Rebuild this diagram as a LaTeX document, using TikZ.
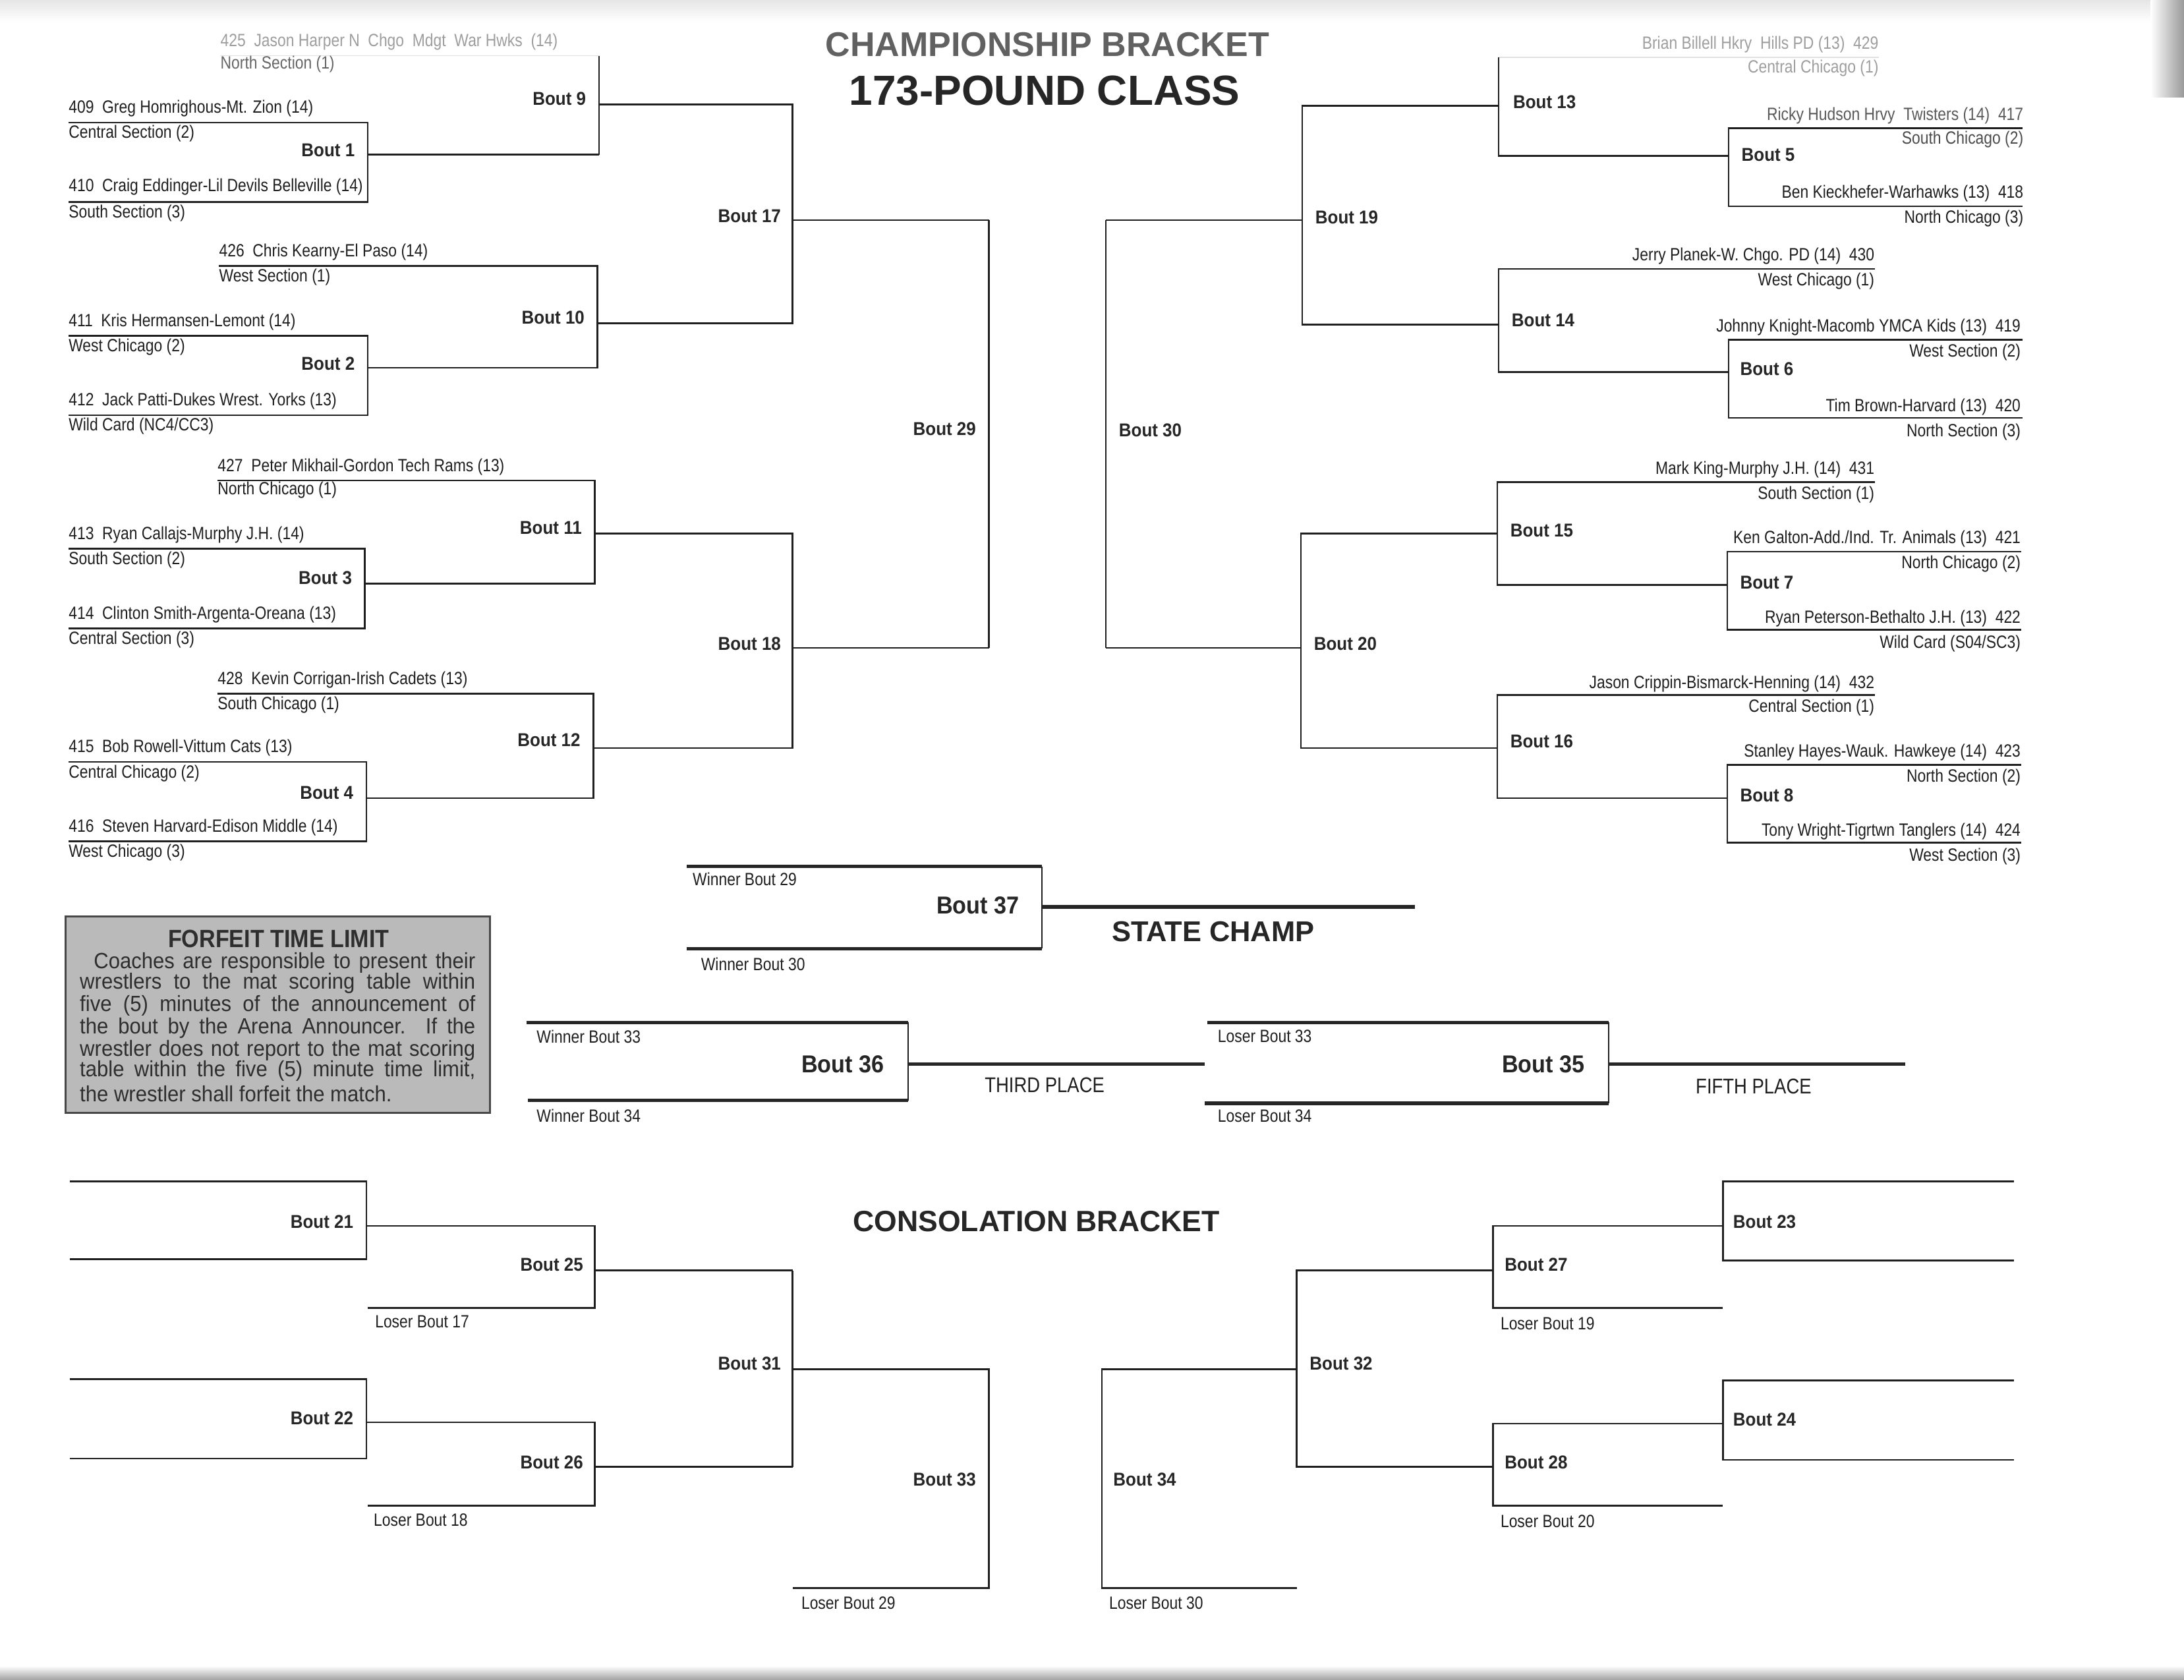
\documentclass[tikz,border=0pt]{standalone}
\usepackage{fontspec}
\setmainfont{Liberation Sans}
\newfontfamily\condf[FakeStretch=0.85]{Liberation Sans}
\newfontfamily\condbf[FakeStretch=0.92]{Liberation Sans Bold}
\newfontfamily\boxf[FakeStretch=0.93]{Liberation Sans}
\newfontfamily\boxbf[FakeStretch=0.9]{Liberation Sans Bold}
\begin{document}
\begin{tikzpicture}[x=0.02cm,y=-0.02cm,
  ln/.style={line width=0.7pt, draw=black!88},
  thk/.style={line width=1.4pt, draw=black!85},
  faint/.style={line width=0.5pt, draw=black!12},
  nm/.style={inner sep=0pt, font=\condf\fontsize{7.25}{8}\selectfont, text=black!88},
  nml/.style={nm, anchor=west},
  nmr/.style={nm, anchor=east},
  bt/.style={inner sep=0pt, font=\condbf\fontsize{7.6}{9}\selectfont, text=black!85},
  btl/.style={bt, anchor=east},
  btr/.style={bt, anchor=west},
  bbig/.style={inner sep=0pt, font=\condbf\fontsize{10}{12}\selectfont, text=black!85, anchor=east},
  plc/.style={inner sep=0pt, font=\condf\fontsize{8.7}{10}\selectfont, text=black!88},
  ttl/.style={inner sep=0pt, font=\bfseries\fontsize{14}{16}\selectfont},
  fade/.style={text=black!38},
  boxt/.style={inner sep=0pt, anchor=west, font=\boxf\fontsize{9}{10}\selectfont, text=black!82},
]
\useasboundingbox (0,0) rectangle (1568,1205.6);
\fill[white] (0,0) rectangle (1568,1205.6);
% scan edges
\shade[top color=black!10, bottom color=white] (0,0) rectangle (1568,16);
\shade[left color=white, right color=black!40] (1544,0) rectangle (1568,70);
\shade[top color=white, bottom color=black!35] (0,1196) rectangle (1568,1205.6);

% ---------------- titles ----------------
\node[ttl, text=black!62] (t1) at (752,32) {CHAMPIONSHIP BRACKET};
\node[inner sep=0pt, font=\bfseries\fontsize{17.2}{19}\selectfont, text=black!85] (t2) at (750,65) {173-POUND CLASS};
\node[inner sep=0pt, font=\bfseries\fontsize{12}{14}\selectfont, text=black!85] (t3) at (744,877) {CONSOLATION BRACKET};
\node[inner sep=0pt, font=\bfseries\fontsize{11.7}{14}\selectfont, text=black!85] (t4) at (871,669) {STATE CHAMP};

% ---------------- championship, left ----------------
\draw[faint] (158,40) -- (430,40);
\draw[ln] (430,40) -- (430,111);
\draw[ln] (49,88) -- (264,88) -- (264,145) -- (49,145);
\draw[ln] (264,111) -- (430,111);
\draw[ln] (157,191) -- (429,191) -- (429,264) -- (264,264);
\draw[ln] (49,241) -- (264,241) -- (264,298) -- (49,298);
\draw[ln] (430,75) -- (569,75) -- (569,232) -- (429,232);
\draw[ln] (569,158) -- (710,158);
\draw[ln] (156,345) -- (427,345) -- (427,419) -- (262,419);
\draw[ln] (49,394) -- (262,394) -- (262,451) -- (49,451);
\draw[ln] (156,498) -- (426,498) -- (426,573) -- (263,573);
\draw[ln] (49,547) -- (263,547) -- (263,604) -- (49,604);
\draw[ln] (427,383) -- (569,383) -- (569,537) -- (426,537);
\draw[ln] (569,465) -- (710,465);
\draw[ln] (710,158) -- (710,465);

% ---------------- championship, right ----------------
\draw[faint] (1349,41) -- (1076,41);
\draw[ln] (1076,41) -- (1076,112) -- (1241,112);
\draw[ln] (1452,92) -- (1241,92) -- (1241,148) -- (1452,148);
\draw[ln] (1346,193) -- (1076,193) -- (1076,267) -- (1241,267);
\draw[ln] (1452,244) -- (1241,244) -- (1241,300) -- (1452,300);
\draw[ln] (1076,76) -- (935,76) -- (935,233) -- (1076,233);
\draw[ln] (935,158) -- (794,158);
\draw[ln] (1346,346) -- (1075,346) -- (1075,420) -- (1240,420);
\draw[ln] (1451,396) -- (1240,396) -- (1240,452) -- (1451,452);
\draw[ln] (1346,499) -- (1075,499) -- (1075,573) -- (1240,573);
\draw[ln] (1451,549) -- (1240,549) -- (1240,605) -- (1451,605);
\draw[ln] (1075,383) -- (934,383) -- (934,537) -- (1075,537);
\draw[ln] (934,465) -- (794,465);
\draw[ln] (794,158) -- (794,465);

% ---------------- finals ----------------
\draw[thk] (493,622) -- (748,622);
\draw[thk] (493,681) -- (748,681);
\draw[ln] (748,622) -- (748,681);
\draw[thk] (748,651) -- (1016,651);
\draw[thk] (378,734) -- (652,734);
\draw[thk] (379,790) -- (652,790);
\draw[ln] (652,734) -- (652,790);
\draw[thk] (652,764) -- (865,764);
\draw[thk] (867,734) -- (1155,734);
\draw[thk] (865,792) -- (1155,792);
\draw[ln] (1155,734) -- (1155,792);
\draw[thk] (1155,764) -- (1368,764);

% ---------------- consolation left ----------------
\draw[ln] (50,848) -- (263,848) -- (263,904) -- (50,904);
\draw[ln] (263,880) -- (427,880) -- (427,939) -- (264,939);
\draw[ln] (427,912) -- (569,912);
\draw[ln] (50,990) -- (263,990) -- (263,1047) -- (50,1047);
\draw[ln] (263,1021) -- (427,1021) -- (427,1081) -- (264,1081);
\draw[ln] (427,1053) -- (569,1053);
\draw[ln] (569,912) -- (569,1053);
\draw[ln] (569,983) -- (710,983) -- (710,1140) -- (569,1140);

% ---------------- consolation right ----------------
\draw[ln] (931,983) -- (791,983) -- (791,1140) -- (931,1140);
\draw[ln] (1072,912) -- (931,912) -- (931,1053) -- (1072,1053);
\draw[ln] (1237,880) -- (1072,880) -- (1072,939) -- (1237,939);
\draw[ln] (1446,848) -- (1237,848) -- (1237,905) -- (1446,905);
\draw[ln] (1237,1022) -- (1072,1022) -- (1072,1081) -- (1237,1081);
\draw[ln] (1446,991) -- (1237,991) -- (1237,1048) -- (1446,1048);

% ---------------- names left ----------------
\node[nml, fade] (n425) at (158,30) {425\ \ Jason Harper N\ \ Chgo\ \ Mdgt\ \ War Hwks\ \ (14)};
\node[nml, text=black!60] (s425) at (158,46) {North Section (1)};
\node[nml] (n409) at (49,78) {409\ \ Greg Homrighous-Mt. Zion (14)};
\node[nml] (s409) at (49,96) {Central Section (2)};
\node[nml] (n410) at (49,134) {410\ \ Craig Eddinger-Lil Devils Belleville (14)};
\node[nml] (s410) at (49,153) {South Section (3)};
\node[nml] (n426) at (157,181) {426\ \ Chris Kearny-El Paso (14)};
\node[nml] (s426) at (157,199) {West Section (1)};
\node[nml] (n411) at (49,231) {411\ \ Kris Hermansen-Lemont (14)};
\node[nml] (s411) at (49,249) {West Chicago (2)};
\node[nml] (n412) at (49,288) {412\ \ Jack Patti-Dukes Wrest. Yorks (13)};
\node[nml] (s412) at (49,306) {Wild Card (NC4/CC3)};
\node[nml] (n427) at (156,335) {427\ \ Peter Mikhail-Gordon Tech Rams (13)};
\node[nml] (s427) at (156,352) {North Chicago (1)};
\node[nml] (n413) at (49,384) {413\ \ Ryan Callajs-Murphy J.H. (14)};
\node[nml] (s413) at (49,402) {South Section (2)};
\node[nml] (n414) at (49,441) {414\ \ Clinton Smith-Argenta-Oreana (13)};
\node[nml] (s414) at (49,459) {Central Section (3)};
\node[nml] (n428) at (156,488) {428\ \ Kevin Corrigan-Irish Cadets (13)};
\node[nml] (s428) at (156,506) {South Chicago (1)};
\node[nml] (n415) at (49,537) {415\ \ Bob Rowell-Vittum Cats (13)};
\node[nml] (s415) at (49,555) {Central Chicago (2)};
\node[nml] (n416) at (49,594) {416\ \ Steven Harvard-Edison Middle (14)};
\node[nml] (s416) at (49,612) {West Chicago (3)};

% ---------------- names right ----------------
\node[nmr, fade] (n429) at (1349,32) {Brian Billell Hkry\ \ Hills PD (13)\ \ 429};
\node[nmr, fade] (s429) at (1349,49) {Central Chicago (1)};
\node[nmr, text=black!65] (n417) at (1453,83) {Ricky Hudson Hrvy\ \ Twisters (14)\ \ 417};
\node[nmr, text=black!70] (s417) at (1453,100) {South Chicago (2)};
\node[nmr] (n418) at (1453,139) {Ben Kieckhefer-Warhawks (13)\ \ 418};
\node[nmr] (s418) at (1453,157) {North Chicago (3)};
\node[nmr] (n430) at (1346,184) {Jerry Planek-W. Chgo. PD (14)\ \ 430};
\node[nmr] (s430) at (1346,202) {West Chicago (1)};
\node[nmr] (n419) at (1451,235) {Johnny Knight-Macomb YMCA Kids (13)\ \ 419};
\node[nmr] (s419) at (1451,253) {West Section (2)};
\node[nmr] (n420) at (1451,292) {Tim Brown-Harvard (13)\ \ 420};
\node[nmr] (s420) at (1451,310) {North Section (3)};
\node[nmr] (n431) at (1346,337) {Mark King-Murphy J.H. (14)\ \ 431};
\node[nmr] (s431) at (1346,355) {South Section (1)};
\node[nmr] (n421) at (1451,387) {Ken Galton-Add./Ind. Tr. Animals (13)\ \ 421};
\node[nmr] (s421) at (1451,405) {North Chicago (2)};
\node[nmr] (n422) at (1451,444) {Ryan Peterson-Bethalto J.H. (13)\ \ 422};
\node[nmr] (s422) at (1451,462) {Wild Card (S04/SC3)};
\node[nmr] (n432) at (1346,491) {Jason Crippin-Bismarck-Henning (14)\ \ 432};
\node[nmr] (s432) at (1346,508) {Central Section (1)};
\node[nmr] (n423) at (1451,540) {Stanley Hayes-Wauk. Hawkeye (14)\ \ 423};
\node[nmr] (s423) at (1451,558) {North Section (2)};
\node[nmr] (n424) at (1451,597) {Tony Wright-Tigrtwn Tanglers (14)\ \ 424};
\node[nmr] (s424) at (1451,615) {West Section (3)};

% ---------------- bout labels ----------------
\node[btl] (b1) at (255,108) {Bout 1};
\node[btl] (b2) at (255,261) {Bout 2};
\node[btl] (b3) at (253,415) {Bout 3};
\node[btl] (b4) at (254,569) {Bout 4};
\node[btl] (b9) at (421,71) {Bout 9};
\node[btl] (b10) at (420,228) {Bout 10};
\node[btl] (b11) at (418,379) {Bout 11};
\node[btl] (b12) at (417,531) {Bout 12};
\node[btl] (b17) at (561,155) {Bout 17};
\node[btl] (b18) at (561,462) {Bout 18};
\node[btl] (b29) at (701,308) {Bout 29};
\node[btr] (b13) at (1086,73) {Bout 13};
\node[btr] (b5) at (1250,111) {Bout 5};
\node[btr] (b14) at (1085,230) {Bout 14};
\node[btr] (b6) at (1249,265) {Bout 6};
\node[btr] (b19) at (944,156) {Bout 19};
\node[btr] (b30) at (803,309) {Bout 30};
\node[btr] (b15) at (1084,381) {Bout 15};
\node[btr] (b7) at (1249,418) {Bout 7};
\node[btr] (b16) at (1084,532) {Bout 16};
\node[btr] (b8) at (1249,571) {Bout 8};
\node[btr] (b20) at (943,462) {Bout 20};
\node[btl] (b21) at (254,877) {Bout 21};
\node[btl] (b22) at (254,1018) {Bout 22};
\node[btl] (b25) at (419,908) {Bout 25};
\node[btl] (b26) at (419,1050) {Bout 26};
\node[btl] (b31) at (561,979) {Bout 31};
\node[btl] (b33) at (701,1062) {Bout 33};
\node[btr] (b27) at (1080,908) {Bout 27};
\node[btr] (b23) at (1244,877) {Bout 23};
\node[btr] (b28) at (1080,1050) {Bout 28};
\node[btr] (b24) at (1244,1019) {Bout 24};
\node[btr] (b32) at (940,979) {Bout 32};
\node[btr] (b34) at (799,1062) {Bout 34};
\node[bbig] (b37) at (732,650) {Bout 37};
\node[bbig] (b36) at (635,764) {Bout 36};
\node[bbig] (b35) at (1138,764) {Bout 35};

% ---------------- finals texts ----------------
\node[nml] (w29) at (497,631) {Winner Bout 29};
\node[nml] (w30) at (503,692) {Winner Bout 30};
\node[nml] (w33) at (385,744) {Winner Bout 33};
\node[nml] (w34) at (385,801) {Winner Bout 34};
\node[nml] (l33) at (874,744) {Loser Bout 33};
\node[nml] (l34) at (874,801) {Loser Bout 34};
\node[plc] (p3) at (750,779) {THIRD PLACE};
\node[plc] (p5) at (1259,780) {FIFTH PLACE};
\node[nml] (l17) at (269,949) {Loser Bout 17};
\node[nml] (l18) at (268,1091) {Loser Bout 18};
\node[nml] (l29) at (575,1151) {Loser Bout 29};
\node[nml] (l19) at (1077,950) {Loser Bout 19};
\node[nml] (l20) at (1077,1092) {Loser Bout 20};
\node[nml] (l30) at (796,1151) {Loser Bout 30};

% ---------------- forfeit box ----------------
\fill[black!27] (47,658) rectangle (352,799);
\draw[line width=0.8pt, draw=black!72] (47,658) rectangle (352,799);
\node[inner sep=0pt, font=\boxbf\fontsize{10.2}{12}\selectfont, text=black!82] (ft) at (200,674) {FORFEIT TIME LIMIT};
\node[boxt] (f1) at (67,691) {\makebox[5.48cm][s]{Coaches are responsible to present their}};
\node[boxt] (f2) at (57,706) {\makebox[5.68cm][s]{wrestlers to the mat scoring table within}};
\node[boxt] (f3) at (57,722) {\makebox[5.68cm][s]{five (5) minutes of the announcement of}};
\node[boxt] (f4) at (57,738) {\makebox[5.68cm][s]{the bout by the Arena Announcer. If the}};
\node[boxt] (f5) at (57,754) {\makebox[5.68cm][s]{wrestler does not report to the mat scoring}};
\node[boxt] (f6) at (57,769) {\makebox[5.68cm][s]{table within the five (5) minute time limit,}};
\node[boxt] (f7) at (57,785) {the wrestler shall forfeit the match.};
\end{tikzpicture}
\end{document}
